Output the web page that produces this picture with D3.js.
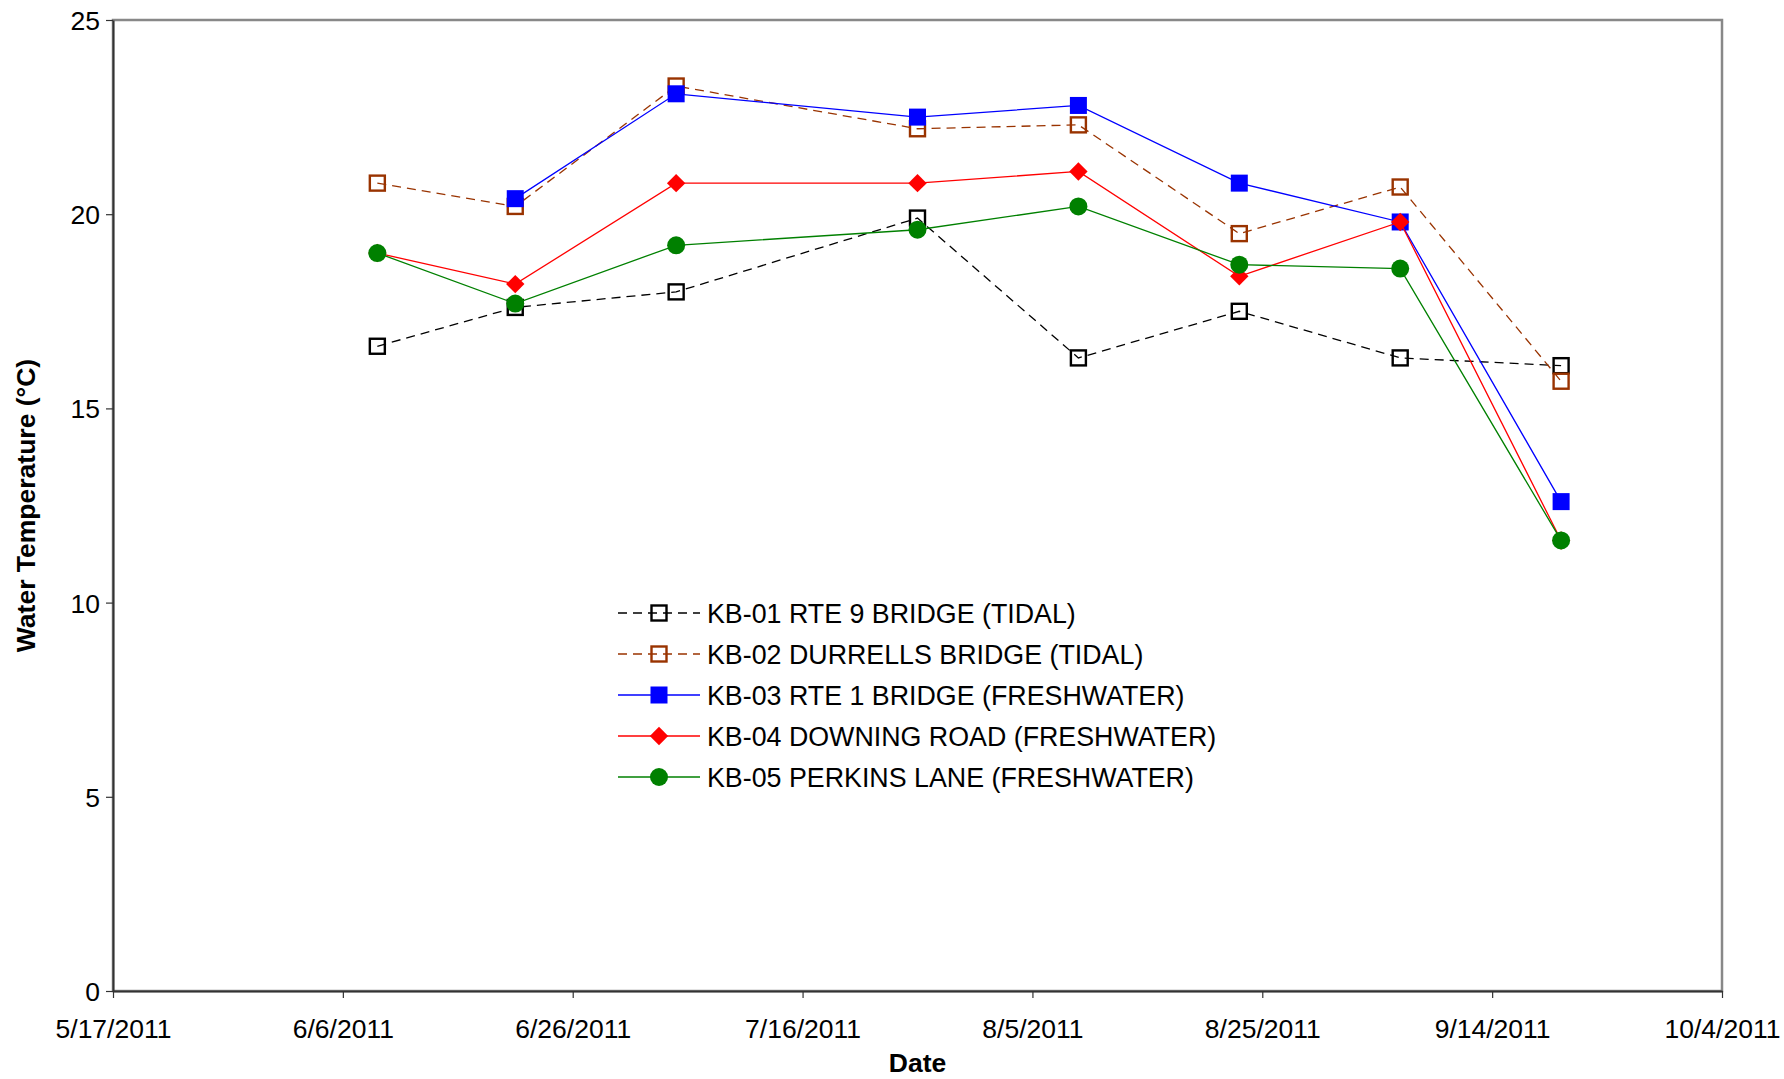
<!DOCTYPE html>
<html>
<head>
<meta charset="utf-8">
<script src="https://cdn.jsdelivr.net/npm/d3@7"></script>
<style>
  html, body { margin: 0; padding: 0; background: #ffffff; }
  svg { display: block; font-family: "Liberation Sans", Arial, sans-serif; }
</style>
</head>
<body>
<svg id="chart" width="1784" height="1079"></svg>
<script>
// Sampling dates (M/D/YYYY)
const sampleDates = ["6/9/2011", "6/21/2011", "7/5/2011", "7/26/2011", "8/9/2011", "8/23/2011", "9/6/2011", "9/20/2011"];

// Water temperature (°C) at each station; null = not sampled
const kb01 = [16.6, 17.6, 18.0, 19.9, 16.3, 17.5, 16.3, 16.1];
const kb02 = [20.8, 20.2, 23.3, 22.2, 22.3, 19.5, 20.7, 15.7];
const kb03 = [null, 20.4, 23.1, 22.5, 22.8, 20.8, 19.8, 12.6];
const kb04 = [19.0, 18.2, 20.8, 20.8, 21.1, 18.4, 19.8, 11.6];
const kb05 = [19.0, 17.7, 19.2, 19.6, 20.2, 18.7, 18.6, 11.6];

const seriesNames = [
  "KB-01 RTE 9 BRIDGE (TIDAL)",
  "KB-02 DURRELLS BRIDGE (TIDAL)",
  "KB-03 RTE 1 BRIDGE (FRESHWATER)",
  "KB-04 DOWNING ROAD (FRESHWATER)",
  "KB-05 PERKINS LANE (FRESHWATER)"
];

const xTickLabels = ["5/17/2011", "6/6/2011", "6/26/2011", "7/16/2011", "8/5/2011", "8/25/2011", "9/14/2011", "10/4/2011"];
const yTicks = [0, 5, 10, 15, 20, 25];

const xTitle = "Date";
const yTitle = "Water Temperature (°C)";

// ---- drawing ----
const parseDate = d3.timeParse("%m/%d/%Y");

const plot = { left: 113, right: 1722, top: 20, bottom: 991 };

const xTicks = xTickLabels.map(parseDate);
const x = d3.scaleTime()
  .domain([xTicks[0], xTicks[xTicks.length - 1]])
  .range([plot.left, plot.right]);
const y = d3.scaleLinear()
  .domain([yTicks[0], yTicks[yTicks.length - 1]])
  .range([plot.bottom, plot.top]);

const styles = [
  { color: "#000000", dash: "9,6", marker: "openSquare" },
  { color: "#993300", dash: "9,6", marker: "openSquare" },
  { color: "#0000ff", dash: null,  marker: "square" },
  { color: "#ff0000", dash: null,  marker: "diamond" },
  { color: "#008000", dash: null,  marker: "circle" }
];
const valueSets = [kb01, kb02, kb03, kb04, kb05];
const dates = sampleDates.map(parseDate);

const series = seriesNames.map((name, i) => ({
  name,
  style: styles[i],
  points: dates.map((d, j) => ({ date: d, value: valueSets[i][j] }))
}));

const svg = d3.select("#chart");

// plot frame
svg.append("rect")
  .attr("x", plot.left).attr("y", plot.top)
  .attr("width", plot.right - plot.left).attr("height", plot.bottom - plot.top)
  .attr("fill", "none").attr("stroke", "#888888").attr("stroke-width", 2.5);

// axes
const yAxis = svg.append("g")
  .attr("transform", `translate(${plot.left},0)`)
  .call(d3.axisLeft(y).tickValues(yTicks).tickSize(7).tickPadding(6).tickSizeOuter(0));
const xAxis = svg.append("g")
  .attr("transform", `translate(0,${plot.bottom})`)
  .call(d3.axisBottom(x).tickValues(xTicks).tickFormat((d, i) => xTickLabels[i]).tickSize(7).tickSizeOuter(0));

[yAxis, xAxis].forEach(g => {
  g.select(".domain").attr("stroke", "#333333").attr("stroke-width", 2);
  g.selectAll(".tick line").attr("stroke", "#333333").attr("stroke-width", 1.2);
  g.selectAll("text")
    .attr("fill", "#000")
    .style("font-size", "26.5px")
    .style("font-family", '"Liberation Sans", Arial, sans-serif');
});
yAxis.selectAll("text").attr("dy", "0.36em");
xAxis.selectAll("text").attr("y", 28).attr("dy", "0.71em");

// axis titles
svg.append("text")
  .attr("x", (plot.left + plot.right) / 2)
  .attr("y", 1072)
  .attr("text-anchor", "middle")
  .style("font-size", "26.5px").style("font-weight", "bold")
  .text(xTitle);
svg.append("text")
  .attr("transform", `translate(35,${(plot.top + plot.bottom) / 2}) rotate(-90)`)
  .attr("text-anchor", "middle")
  .style("font-size", "26.5px").style("font-weight", "bold")
  .text(yTitle);

function drawMarker(g, style) {
  switch (style.marker) {
    case "openSquare":
      g.append("rect").attr("x", -7.5).attr("y", -7.5).attr("width", 15).attr("height", 15)
        .attr("fill", "none").attr("stroke", style.color).attr("stroke-width", 2.4);
      break;
    case "square":
      g.append("rect").attr("x", -8.5).attr("y", -8.5).attr("width", 17).attr("height", 17)
        .attr("fill", style.color);
      break;
    case "diamond":
      g.append("path").attr("d", "M0,-9.2L9.2,0L0,9.2L-9.2,0Z").attr("fill", style.color);
      break;
    case "circle":
      g.append("circle").attr("r", 9).attr("fill", style.color);
      break;
  }
}

const line = d3.line()
  .defined(p => p.value != null)
  .x(p => x(p.date))
  .y(p => y(p.value));

// series, drawn in station order so later stations sit on top
series.forEach(s => {
  const g = svg.append("g");
  g.append("path")
    .datum(s.points)
    .attr("d", line)
    .attr("fill", "none")
    .attr("stroke", s.style.color)
    .attr("stroke-width", 1.3)
    .attr("stroke-dasharray", s.style.dash);
  g.selectAll("g.pt")
    .data(s.points.filter(p => p.value != null))
    .join("g")
    .attr("class", "pt")
    .attr("transform", p => `translate(${x(p.date)},${y(p.value)})`)
    .each(function () { drawMarker(d3.select(this), s.style); });
});

// legend
const legend = svg.append("g").attr("transform", "translate(618,613)");
series.forEach((s, i) => {
  const row = legend.append("g").attr("transform", `translate(0,${i * 41})`);
  row.append("line")
    .attr("x1", 0).attr("x2", 82).attr("y1", 0).attr("y2", 0)
    .attr("stroke", s.style.color).attr("stroke-width", 1.3)
    .attr("stroke-dasharray", s.style.dash);
  drawMarker(row.append("g").attr("transform", "translate(41,0)"), s.style);
  row.append("text")
    .attr("x", 89).attr("y", 0).attr("dy", "0.36em")
    .style("font-size", "26.8px")
    .text(s.name);
});
</script>
</body>
</html>
